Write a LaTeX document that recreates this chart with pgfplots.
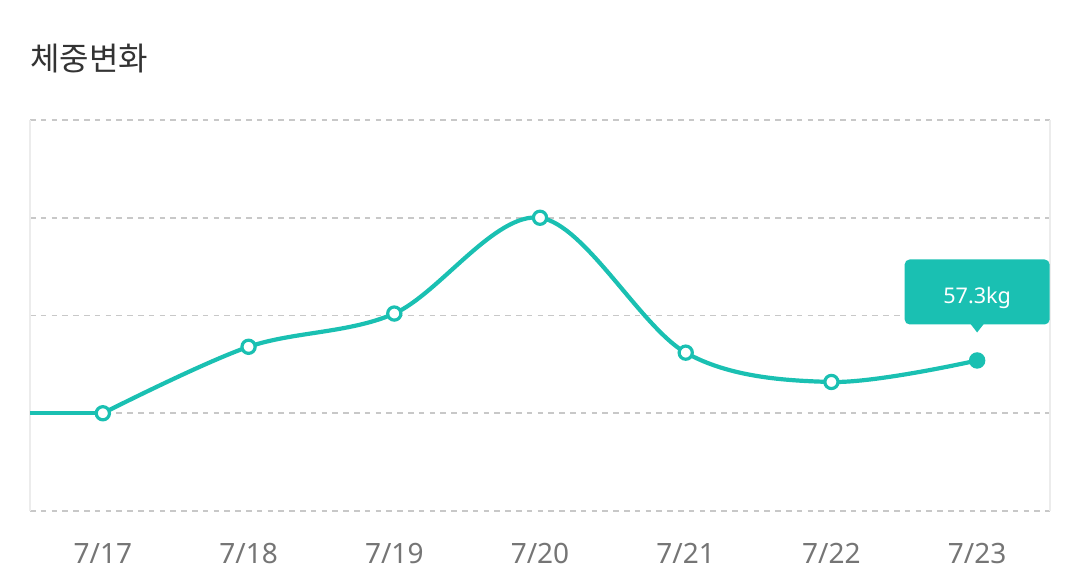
\documentclass[border=0pt]{standalone}
\usepackage{pgfplots}
\pgfplotsset{compat=1.18}
\usetikzlibrary{calc}
\usepackage{fontspec}
\setmainfont{Noto Sans}
\newfontfamily\kr{Noto Sans CJK KR}
\definecolor{tealc}{RGB}{26,192,178}
\definecolor{gridc}{RGB}{200,200,200}
\definecolor{edgec}{RGB}{236,236,236}
\definecolor{tickc}{RGB}{117,117,117}
\definecolor{titlec}{RGB}{51,51,51}
\begin{document}
\begin{tikzpicture}
\begin{axis}[
  name=ax,
  scale only axis,
  width=510pt, height=195.5pt,
  xmin=-0.5, xmax=6.5,
  ymin=56.5, ymax=58.5,
  xtick={0,1,2,3,4,5,6},
  xticklabels={7/17,7/18,7/19,7/20,7/21,7/22,7/23},
  ytick={56.5,57,57.5,58,58.5},
  yticklabels={},
  ymajorgrids,
  grid style={gridc, line width=0.9pt, dash pattern=on 2.8pt off 2.6pt},
  axis line style={draw=none},
  major tick length=0pt,
  xticklabel style={anchor=base, yshift=-26pt, text=tickc, font=\fontsize{14}{14}\selectfont},
  clip=false,
]
\draw[edgec, line width=0.6pt] (rel axis cs:0,0) -- (rel axis cs:0,1);
\draw[edgec, line width=0.6pt] (rel axis cs:1,0) -- (rel axis cs:1,1);
\addplot[tealc, line width=2.1pt] coordinates {(-0.5,57.0) (0,57.0)};
\addplot[tealc, line width=2.1pt, smooth, tension=0.55,
  mark=*, mark size=3.3pt, mark options={fill=white, draw=tealc, line width=1.6pt}]
  coordinates {(0,57.0) (1,57.34) (2,57.51) (3,58.0) (4,57.31) (5,57.16) (6,57.27)};
\addplot[tealc, only marks, mark=*, mark size=3.6pt, mark options={fill=tealc, draw=tealc}]
  coordinates {(6,57.27)};
\coordinate (last) at (axis cs:6,57.27);
\end{axis}
\fill[tealc] ($(last)+(-3.5pt,18.5pt)$) -- ($(last)+(0pt,14pt)$) -- ($(last)+(3.5pt,18.5pt)$) -- cycle;
\fill[tealc, rounded corners=2.5pt] ($(last)+(-36.25pt,18pt)$) rectangle ($(last)+(36.25pt,50.5pt)$);
\node[anchor=base, text=white, font=\fontsize{10.8}{10.8}\selectfont, inner sep=0pt]
  at ($(last)+(0,28.7pt)$) {57.3kg};
\node[anchor=base west, inner sep=0pt, text=titlec, font=\kr\fontsize{16}{16}\selectfont]
  at ($(ax.north west)+(0,25pt)$) {체중변화};
\pgfresetboundingbox
\path[use as bounding box] ($(ax.south west)+(-15pt,-37pt)$) rectangle ($(ax.north east)+(15pt,60pt)$);
\end{tikzpicture}
\end{document}
